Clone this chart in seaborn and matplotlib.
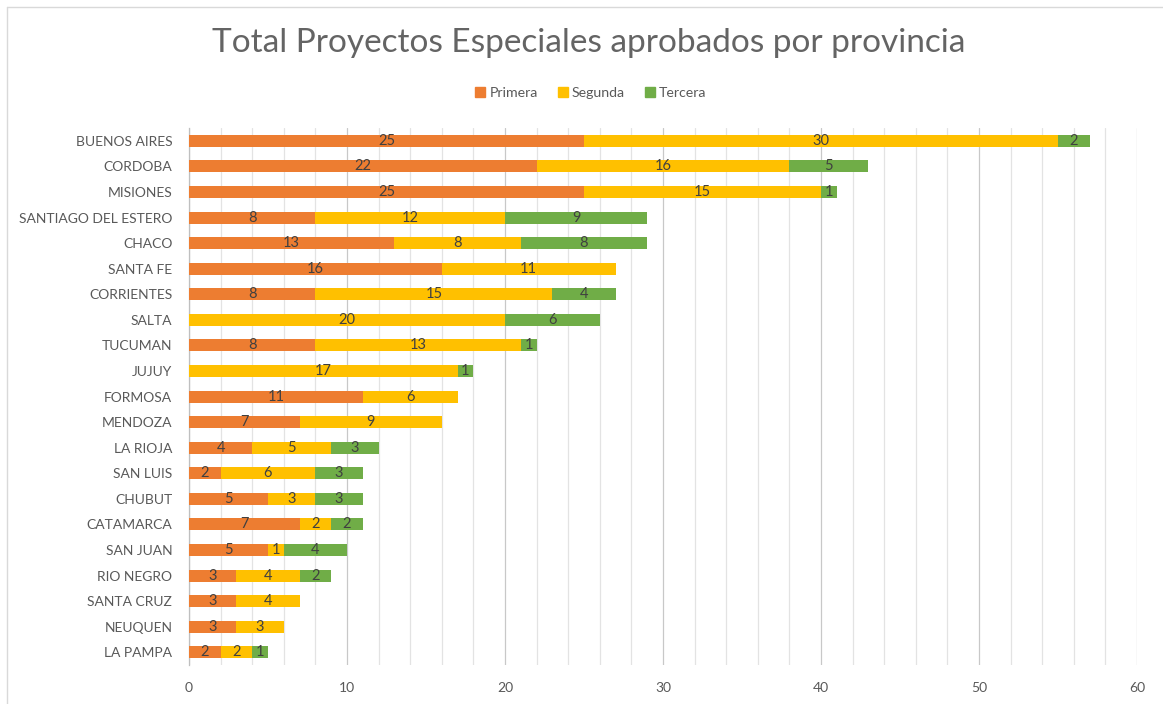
import matplotlib
matplotlib.use("Agg")
import matplotlib.pyplot as plt
import seaborn as sns
import numpy as np
import pandas as pd
from matplotlib.lines import Line2D

provincias = ["BUENOS AIRES", "CORDOBA", "MISIONES", "SANTIAGO DEL ESTERO", "CHACO",
              "SANTA FE", "CORRIENTES", "SALTA", "TUCUMAN", "JUJUY", "FORMOSA",
              "MENDOZA", "LA RIOJA", "SAN LUIS", "CHUBUT", "CATAMARCA", "SAN JUAN",
              "RIO NEGRO", "SANTA CRUZ", "NEUQUEN", "LA PAMPA"]
primera = [25, 22, 25, 8, 13, 16, 8, 0, 8, 0, 11, 7, 4, 2, 5, 7, 5, 3, 3, 3, 2]
segunda = [30, 16, 15, 12, 8, 11, 15, 20, 13, 17, 6, 9, 5, 6, 3, 2, 1, 4, 4, 3, 2]
tercera = [2, 5, 1, 9, 8, 0, 4, 6, 1, 1, 0, 0, 3, 3, 3, 2, 4, 2, 0, 0, 1]
series = ["Primera", "Segunda", "Tercera"]
colores = ["#ED7D31", "#FFC000", "#70AD47"]
x_ticks = [0, 10, 20, 30, 40, 50, 60]

sns.set_theme(style="white")
plt.rcParams["font.family"] = ["Lato", "DejaVu Sans"]

df = pd.DataFrame({"provincia": provincias, "Primera": primera,
                   "Segunda": segunda, "Tercera": tercera})
df["c1"] = df["Primera"]
df["c2"] = df["Primera"] + df["Segunda"]
df["c3"] = df["c2"] + df["Tercera"]

fig = plt.figure(figsize=(11.63, 7.04), dpi=100)
ax = fig.add_axes([0.1625, 0.0554, 0.8151, 0.7626])

# minor/major vertical gridlines
for v in range(0, 61, 2):
    ax.axvline(v, color="#C8C8C8" if v % 10 == 0 else "#E3E3E3",
               lw=0.9, zorder=0)

bw = 0.47
sns.barplot(data=df, y="provincia", x="c3", orient="y", color=colores[2],
            width=bw, ax=ax, saturation=1, zorder=2, linewidth=0)
sns.barplot(data=df, y="provincia", x="c2", orient="y", color=colores[1],
            width=bw, ax=ax, saturation=1, zorder=3, linewidth=0)
sns.barplot(data=df, y="provincia", x="c1", orient="y", color=colores[0],
            width=bw, ax=ax, saturation=1, zorder=4, linewidth=0)

# data labels centred on each segment
for i, row in df.iterrows():
    starts = [0, row["c1"], row["c2"]]
    for s, name in zip(starts, series):
        val = row[name]
        if val > 0:
            ax.text(s + val / 2, i, str(val), ha="center", va="center",
                    fontsize=10.5, color="#404040", zorder=6)

ax.set_xlim(0, 60)
ax.set_ylim(len(provincias) - 0.5, -0.5)
ax.set_xticks(x_ticks)
ax.set_xticklabels([str(t) for t in x_ticks])
ax.set_xlabel("")
ax.set_ylabel("")
ax.tick_params(axis="x", length=0, pad=12, labelsize=10, labelcolor="#595959")
ax.tick_params(axis="y", length=0, pad=12, labelsize=10, labelcolor="#595959")
for sp in ["top", "right", "bottom"]:
    ax.spines[sp].set_visible(False)
ax.spines["left"].set_color("#BFBFBF")
ax.spines["left"].set_linewidth(0.9)
ax.set_facecolor("none")

fig.text(0.506, 0.939, "Total Proyectos Especiales aprobados por provincia",
         ha="center", va="center", fontsize=24, color="#646464")

handles = [plt.Rectangle((0, 0), 1, 1, color=c) for c in colores]
fig.legend(handles, series, loc="center", bbox_to_anchor=(0.508, 0.868), ncol=3,
           frameon=False, fontsize=10.2, handlelength=0.7, handleheight=0.7,
           handletextpad=0.3, columnspacing=1.4, labelcolor="#595959")

# chart-area border (top and left edges)
fig.add_artist(Line2D([7 / 1163, 1], [1 - 7 / 704, 1 - 7 / 704],
                      transform=fig.transFigure, color="#D9D9D9", lw=1))
fig.add_artist(Line2D([7 / 1163, 7 / 1163], [0, 1 - 7 / 704],
                      transform=fig.transFigure, color="#D9D9D9", lw=1))

fig.savefig("out.png", dpi=100)
